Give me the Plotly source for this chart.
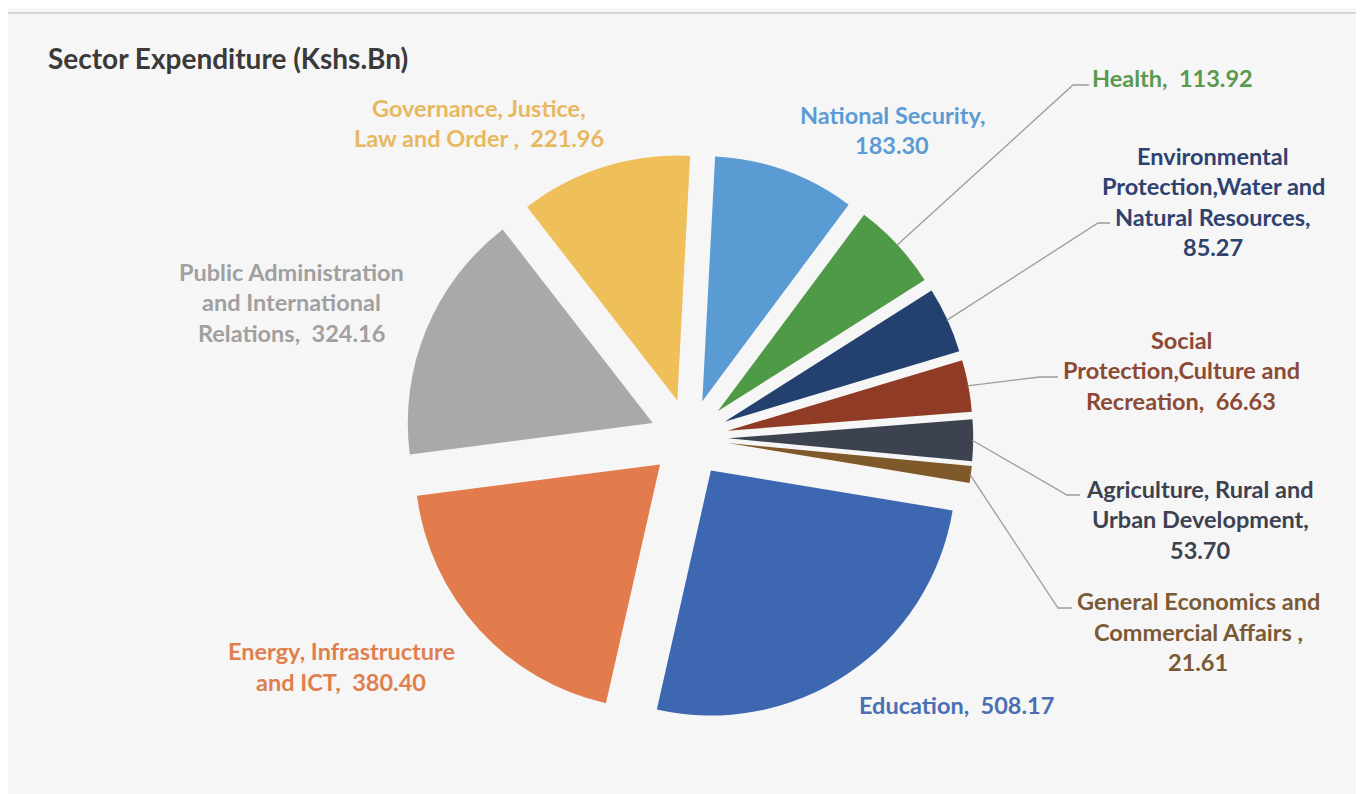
import math
import plotly.graph_objects as go

# Sector expenditure (Kshs. Bn), clockwise from 12 o'clock
sectors = [
    "National Security",
    "Health",
    "Environmental Protection,Water and Natural Resources",
    "Social Protection,Culture and Recreation",
    "Agriculture, Rural and Urban Development",
    "General Economics and Commercial Affairs",
    "Education",
    "Energy, Infrastructure and ICT",
    "Public Administration and International Relations",
    "Governance, Justice, Law and Order",
]
values = [183.30, 113.92, 85.27, 66.63, 53.70, 21.61, 508.17, 380.40, 324.16, 221.96]

slice_colors = ["#5a9bd3", "#4f9a47", "#23406f", "#8f3b25", "#3d4250",
                "#80592a", "#3e67b1", "#e27c4c", "#a9a9ab", "#efbf5a"]
text_colors = ["#5c9bd4", "#5a9a4e", "#2e4270", "#8c4a35", "#3c4250",
               "#7a5a35", "#4a6fb5", "#e07f4e", "#a0a0a0", "#e8b860"]

# page is 1364x794 but the browser body keeps an 8px margin
OFF = 8
W, H = 1364 - OFF, 794 - OFF
CX, CY, R, PULL, ROT = 689, 438, 245, 0.16, 3
FONT = "Lato"
LINE = 30.5

# label placement (page px): wrapped lines ({v} = value), centre x, first line y, leader (elbow x, elbow y, end x)
label_layout = [
    (["National Security,", "{v}"], 892, 115, None),
    (["Health,\u00a0 {v}"], 1172, 78, (1073, 85, 1089)),
    (["Environmental", "Protection,Water and", "Natural Resources,", "{v}"], 1213, 156, (1098, 223, 1110)),
    (["Social", "Protection,Culture and", "Recreation,\u00a0 {v}"], 1181, 340, (1040, 377, 1058)),
    (["Agriculture, Rural and", "Urban Development,", "{v}"], 1200, 489, (1067, 495, 1080)),
    (["General Economics and", "Commercial Affairs ,", "{v}"], 1198, 601, (1058, 608, 1072)),
    (["Education,\u00a0 {v}"], 956, 705, None),
    (["Energy, Infrastructure", "and ICT,\u00a0 {v}"], 341, 651, None),
    (["Public Administration", "and International", "Relations,\u00a0 {v}"], 291, 272, None),
    (["Governance, Justice,", "Law and Order ,\u00a0 {v}"], 479, 108, None),
]


def px(x):
    return (x - OFF) / W


def py(y):
    return 1 - (y - OFF) / H


half = R * (1 + PULL)
fig = go.Figure(go.Pie(
    labels=sectors, values=values, sort=False, direction="clockwise", rotation=ROT,
    pull=[PULL] * len(values), textinfo="none", hoverinfo="label+value",
    marker=dict(colors=slice_colors, line=dict(width=0)),
    domain=dict(x=[px(CX - half), px(CX + half)], y=[py(CY + half), py(CY - half)]),
    showlegend=False,
))

annotations = [dict(text="Sector Expenditure (Kshs.Bn)", x=px(46), y=py(58), xref="paper", yref="paper",
                    xanchor="left", yanchor="middle", showarrow=False,
                    font=dict(family=FONT, size=28, color="#3a3a3a", weight="bold"))]
shapes = [
    dict(type="line", xref="paper", yref="paper", x0=0, x1=1, y0=py(13), y1=py(13),
         line=dict(color="#d6d6d6", width=2), layer="below"),
]

total = sum(values)
cum = 0
for i, (lines, lx, ly, leader) in enumerate(label_layout):
    mid = math.radians(ROT + (cum + values[i] / 2) / total * 360)
    cum += values[i]
    for k, t in enumerate(lines):
        annotations.append(dict(
            text=t.format(v=f"{values[i]:.2f}"), x=px(lx), y=py(ly + k * LINE),
            xref="paper", yref="paper", xanchor="center", yanchor="middle", showarrow=False,
            font=dict(family=FONT, size=23.5, color=text_colors[i], weight="bold")))
    if leader:
        ex, ey, hx = leader
        sx = CX + (half - 1) * math.sin(mid)
        sy = CY - (half - 1) * math.cos(mid)
        shapes.append(dict(type="path", xref="paper", yref="paper",
                           path=f"M {px(sx)} {py(sy)} L {px(ex)} {py(ey)} L {px(hx)} {py(ey)}",
                           line=dict(color="#9c9c9c", width=1.3)))

fig.update_layout(
    width=W, height=H, margin=dict(l=0, r=0, t=0, b=0),
    paper_bgcolor="#f6f6f6", plot_bgcolor="#f6f6f6",
    annotations=annotations, shapes=shapes,
)

fig.write_html("out.html")
